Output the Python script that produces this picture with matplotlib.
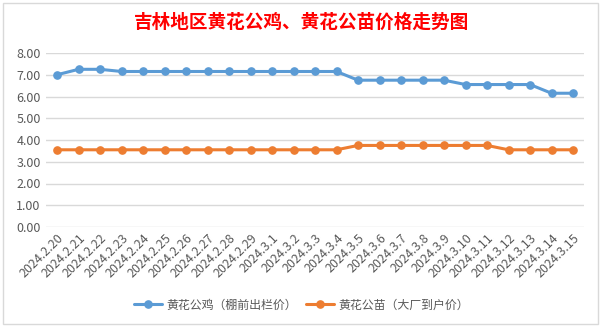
import matplotlib
matplotlib.use("Agg")
import matplotlib.pyplot as plt
from matplotlib.patches import Rectangle

plt.rcParams['font.family'] = ['Noto Sans CJK SC', 'DejaVu Sans']

dates = ["2024.2.20", "2024.2.21", "2024.2.22", "2024.2.23", "2024.2.24", "2024.2.25",
         "2024.2.26", "2024.2.27", "2024.2.28", "2024.2.29", "2024.3.1", "2024.3.2",
         "2024.3.3", "2024.3.4", "2024.3.5", "2024.3.6", "2024.3.7", "2024.3.8",
         "2024.3.9", "2024.3.10", "2024.3.11", "2024.3.12", "2024.3.13", "2024.3.14",
         "2024.3.15"]
rooster = [7.00, 7.25, 7.25, 7.15, 7.15, 7.15, 7.15, 7.15, 7.15, 7.15, 7.15, 7.15,
           7.15, 7.15, 6.75, 6.75, 6.75, 6.75, 6.75, 6.55, 6.55, 6.55, 6.55, 6.15, 6.15]
chick = [3.55, 3.55, 3.55, 3.55, 3.55, 3.55, 3.55, 3.55, 3.55, 3.55, 3.55, 3.55,
         3.55, 3.55, 3.75, 3.75, 3.75, 3.75, 3.75, 3.75, 3.75, 3.55, 3.55, 3.55, 3.55]
yticks = [0, 1, 2, 3, 4, 5, 6, 7, 8]
series_names = ["黄花公鸡（棚前出栏价）", "黄花公苗（大厂到户价）"]
title = "吉林地区黄花公鸡、黄花公苗价格走势图"

W, H = 603, 327
fig = plt.figure(figsize=(W / 100, H / 100), dpi=100)
fig.patch.set_facecolor("white")

# chart frame
fig.patches.append(Rectangle((3 / W, 3 / H), 595 / W, 321 / H, transform=fig.transFigure,
                             fill=False, edgecolor="#D9D9D9", linewidth=1.0))

ax = fig.add_axes([46.3 / W, 1 - 227 / H, (583.75 - 46.3) / W, (227 - 53) / H])
x = list(range(len(dates)))
blue, orange = "#5B9BD5", "#ED7D31"
ax.plot(x, rooster, color=blue, lw=2.2, marker="o", ms=5.2, label=series_names[0],
        solid_capstyle="round", zorder=3)
ax.plot(x, chick, color=orange, lw=2.2, marker="o", ms=5.2, label=series_names[1],
        solid_capstyle="round", zorder=3)

ax.set_xlim(-0.5, len(dates) - 0.5)
ax.set_ylim(0, 8)
ax.set_yticks(yticks)
ax.set_yticklabels([f"{v:.2f}" for v in yticks], fontsize=9, color="#595959")
ax.set_xticks(x)
ax.set_xticklabels(dates, rotation=45, ha="right", va="top", rotation_mode="anchor",
                   fontsize=9, color="#595959")
ax.tick_params(axis="both", length=0, pad=4)
ax.tick_params(axis="x", pad=3)
ax.grid(axis="y", color="#D9D9D9", lw=1.0)
ax.set_axisbelow(True)
for s in ax.spines.values():
    s.set_visible(False)

fig.text(0.5, 1 - 22 / H, title, ha="center", va="center", fontsize=13.4,
         fontweight="bold", color="#FF0000")

leg = fig.legend(loc="center", bbox_to_anchor=(0.5, 1 - 305 / H), ncol=2, frameon=False,
                 fontsize=8.6, handlelength=2.35, columnspacing=0.8, handletextpad=0.35,
                 borderaxespad=0, borderpad=0)
for t in leg.get_texts():
    t.set_color("#595959")

fig.savefig("out.png", dpi=100)
